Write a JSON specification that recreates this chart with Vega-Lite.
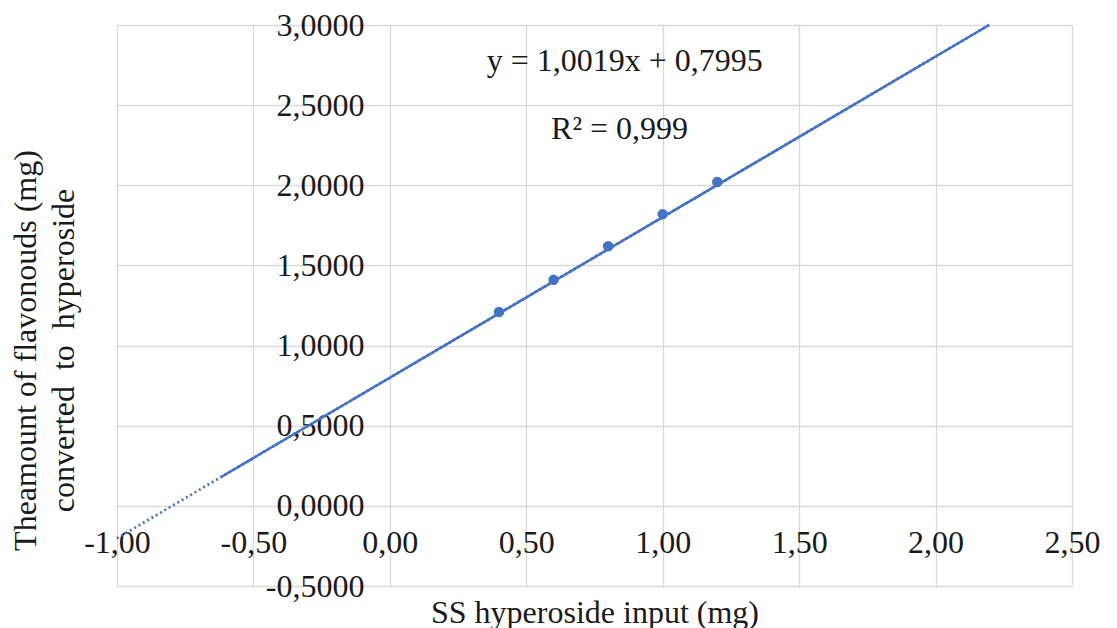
{
  "$schema": "https://vega.github.io/schema/vega-lite/v6.json",
  "width": 955,
  "height": 561,
  "autosize": {"type": "none"},
  "padding": {"left": 117, "top": 25, "right": 45, "bottom": 42},
  "background": "white",
  "config": {
    "view": {"stroke": null},
    "font": "Liberation Serif",
    "axis": {"labelFont": "Liberation Serif", "titleFont": "Liberation Serif", "labelColor": "#1a1a1a", "titleColor": "#1a1a1a", "titleFontWeight": "normal"}
  },
  "datasets": {
    "points": [
      {"x": 0.4, "y": 1.21},
      {"x": 0.6, "y": 1.41},
      {"x": 0.8, "y": 1.62},
      {"x": 1.0, "y": 1.82},
      {"x": 1.2, "y": 2.02}
    ],
    "trend": [
      {"seg": "dotted", "x": -1.0, "y": -0.2024},
      {"seg": "dotted", "x": 2.1963, "y": 3.0},
      {"seg": "solid", "x": -0.62, "y": 0.1783},
      {"seg": "solid", "x": 2.1963, "y": 3.0}
    ],
    "labels": [
      {"x": 0.861, "y": 2.775, "text": "y = 1,0019x + 0,7995"},
      {"x": 0.842, "y": 2.35, "text": "R² = 0,999"}
    ]
  },
  "encoding": {
    "x": {
      "field": "x", "type": "quantitative",
      "scale": {"domain": [-1, 2.5], "nice": false, "zero": false},
      "axis": {
        "orient": "bottom",
        "values": [-1, -0.5, 0, 0.5, 1, 1.5, 2, 2.5],
        "labelExpr": "(datum.value < 0 ? '-' : '') + replace(format(abs(datum.value), '.2f'), '.', ',')",
        "domain": false, "ticks": false,
        "grid": true, "gridColor": "#d9d9d9", "gridWidth": 1.3,
        "labelFontSize": 32, "labelBaseline": "middle", "labelPadding": -44,
        "labelOverlap": false, "labelFlush": false,
        "title": "SS hyperoside input (mg)", "titleFontSize": 32,
        "titleY": 26, "titleBaseline": "middle"
      }
    },
    "y": {
      "field": "y", "type": "quantitative",
      "scale": {"domain": [-0.5, 3], "nice": false, "zero": false},
      "axis": {
        "orient": "left",
        "values": [-0.5, 0, 0.5, 1, 1.5, 2, 2.5, 3],
        "labelExpr": "(datum.value < 0 ? '-' : '') + replace(format(abs(datum.value), '.4f'), '.', ',')",
        "domain": false, "ticks": false,
        "grid": true, "gridColor": "#d9d9d9", "gridWidth": 1.3,
        "labelFontSize": 32, "labelAlign": "right", "labelBaseline": "middle", "labelPadding": -247,
        "labelOverlap": false, "labelFlush": false,
        "title": ["Theamount of flavonouds (mg)", "converted\u00a0\u00a0to\u00a0\u00a0hyperoside"],
        "titleFontSize": 32, "titleLineHeight": 38,
        "titleAngle": -90, "titleAlign": "center", "titleBaseline": "middle",
        "titleX": -92, "titleY": 325
      }
    }
  },
  "layer": [
    {
      "data": {"name": "points"},
      "mark": {"type": "circle", "color": "#4472C4", "opacity": 1, "size": 110}
    },
    {
      "data": {"name": "trend"},
      "transform": [{"filter": "datum.seg === 'solid'"}],
      "mark": {"type": "line", "color": "#4472C4", "strokeWidth": 2.5}
    },
    {
      "data": {"name": "trend"},
      "transform": [{"filter": "datum.seg === 'dotted'"}],
      "mark": {"type": "line", "color": "#4472C4", "strokeWidth": 2.8, "strokeDash": [2, 3]}
    },
    {
      "data": {"name": "labels"},
      "mark": {"type": "text", "font": "Liberation Serif", "fontSize": 32, "color": "#1a1a1a", "align": "center", "baseline": "middle"},
      "encoding": {"text": {"field": "text"}}
    }
  ]
}
